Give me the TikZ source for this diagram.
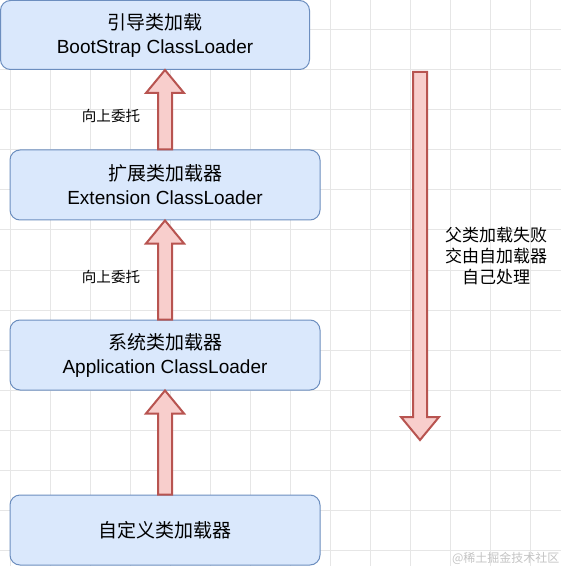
\documentclass[tikz,border=0pt]{standalone}
\usepackage{fontspec}
\setmainfont{Liberation Sans}
\newfontfamily\cjk{Noto Sans CJK SC}
\usetikzlibrary{calc}
\definecolor{boxfill}{HTML}{DAE8FC}
\definecolor{boxline}{HTML}{6C8EBF}
\definecolor{arrowfill}{HTML}{F8CECC}
\definecolor{arrowline}{HTML}{B85450}
\definecolor{gridgray}{HTML}{E6E6E6}
\definecolor{markgray}{HTML}{C4C4C4}

% fat arrow from #1 (tail) to #2 (tip)
\newcommand{\fatarrow}[2]{%
  \coordinate (hb) at ($(#2)!17.25pt!(#1)$);
  \draw [fatline] ($(#1)!5.25pt!90:(#2)$) -- ($(hb)!5.25pt!90:(#2)$)
    -- ($(hb)!14.25pt!90:(#2)$) -- (#2) -- ($(hb)!14.25pt!-90:(#2)$)
    -- ($(hb)!5.25pt!-90:(#2)$) -- ($(#1)!5.25pt!-90:(#2)$) -- cycle;}

\begin{document}
\begin{tikzpicture}[x=0.75pt, y=-0.75pt,
  loader/.style={draw=boxline, line width=0.75pt, fill=boxfill, rounded corners=7.5pt,
    minimum width=232.5pt, minimum height=52.5pt, align=center, inner sep=0pt,
    font=\fontsize{14.25}{18}\selectfont},
  fatline/.style={draw=arrowline, fill=arrowfill, line width=1.5pt, line join=miter},
  uplabel/.style={font=\cjk\fontsize{10.9}{13}\selectfont},
  gridline/.style={draw=gridgray, line width=0.75pt}]
\useasboundingbox (0,0) rectangle (561,566);
\fill [white] (0,0) rectangle (561,566);
\foreach \gx in {10,50,...,550} \draw [gridline] (\gx,0) -- (\gx,566);
\foreach \gy in {30,70,...,550} \draw [gridline] (0,\gy) -- (561,\gy);

\node [loader, minimum width=231.75pt, minimum height=51.75pt] (boot) at (155,35) {{\cjk 引导类加载}\\BootStrap ClassLoader};
\node [loader] (ext) at (165,185) {{\cjk 扩展类加载器}\\Extension ClassLoader};
\node [loader] (app) at (165,355) {{\cjk 系统类加载器}\\Application ClassLoader};
\node [loader] (custom) at (165,530) {\cjk 自定义类加载器};

\node [uplabel] (delegate1) at (111,116) {向上委托};
\node [uplabel] (delegate2) at (111,277) {向上委托};
\node [align=center, font=\cjk\fontsize{12.75}{15.75}\selectfont] (fail) at (496,256) {父类加载失败\\交由自加载器\\自己处理};
\node [anchor=south east, text=markgray, inner sep=1pt, font=\cjk\fontsize{9}{10}\selectfont] (mark) at (561,566) {@稀土掘金技术社区};

\coordinate (tip1) at (ext.north |- boot.south);
\fatarrow{ext.north}{tip1}
\fatarrow{app.north}{ext.south}
\fatarrow{custom.north}{app.south}
\coordinate (fallTop) at (420,72);
\coordinate (fallEnd) at (420,440);
\fatarrow{fallTop}{fallEnd}
\end{tikzpicture}
\end{document}
